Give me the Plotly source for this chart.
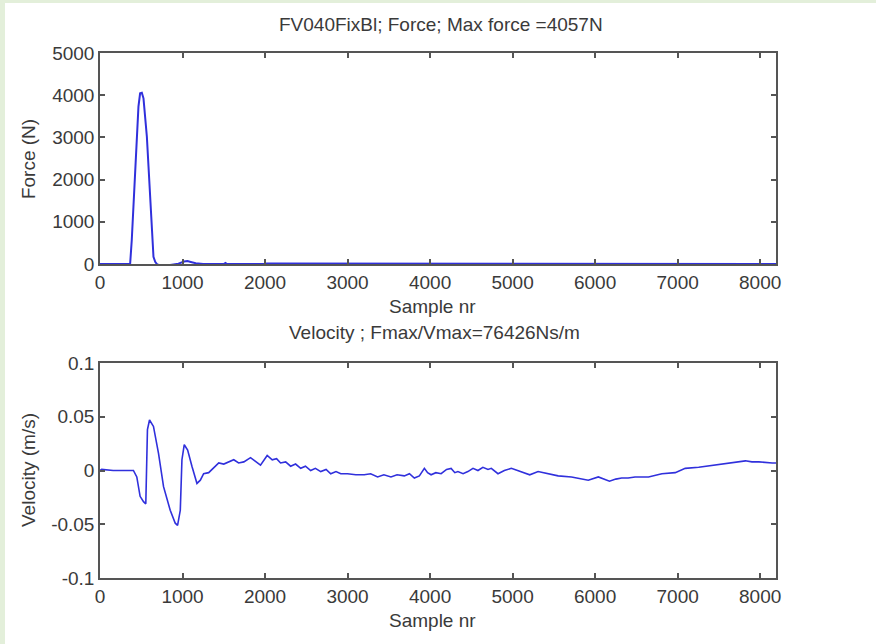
import plotly.graph_objects as go

# ---- data ----
force_x = [0, 365, 385, 405, 426, 446, 466, 486, 507, 527, 547, 568, 588, 608, 628, 648, 669, 689,
           720, 780, 850, 950, 1020, 1060, 1100, 1160, 1250, 1500, 1520, 1540, 2000, 2020, 8192]
force_y = [0, 0, 570, 1280, 1990, 2940, 3730, 4045, 4057, 3926, 3500, 3017, 2306, 1517, 727, 174, 55, 0,
           -30, -40, -20, 10, 60, 70, 50, 20, 0, 0, 25, 0, 0, 15, 0]

vel_x = [0, 20, 160, 405, 446, 486, 527, 555, 575, 600, 648, 709, 770, 851, 912, 940, 973, 993, 1021,
         1062, 1114, 1175, 1216, 1256, 1317, 1378, 1439, 1500, 1560, 1621, 1680, 1743, 1824, 1880, 1945,
         2026, 2087, 2140, 2188, 2250, 2310, 2370, 2432, 2490, 2553, 2610, 2675, 2740, 2796, 2860, 2918,
         2999, 3100, 3202, 3280, 3364, 3440, 3526, 3600, 3688, 3750, 3809, 3870, 3931, 3970, 4012, 4070,
         4134, 4200, 4255, 4300, 4337, 4400, 4458, 4520, 4580, 4640, 4702, 4742, 4823, 4900, 4985, 5066,
         5140, 5208, 5309, 5431, 5552, 5714, 5836, 5917, 6039, 6100, 6174, 6250, 6322, 6400, 6484, 6647,
         6809, 6971, 7092, 7255, 7457, 7560, 7660, 7740, 7821, 7900, 7984, 8146, 8192]
vel_y = [0.000, 0.001, 0.000, 0.000, -0.006, -0.024, -0.029, -0.031, 0.038, 0.047, 0.041, 0.016,
         -0.015, -0.037, -0.049, -0.051, -0.037, 0.010, 0.024, 0.019, 0.004, -0.012, -0.009, -0.003,
         -0.002, 0.003, 0.007, 0.006, 0.008, 0.010, 0.007, 0.008, 0.012, 0.009, 0.005, 0.014, 0.010,
         0.011, 0.007, 0.008, 0.004, 0.006, 0.002, 0.004, 0.000, 0.002, -0.001, 0.001, -0.003, -0.001,
         -0.003, -0.003, -0.004, -0.004, -0.003, -0.006, -0.004, -0.006, -0.004, -0.005, -0.003, -0.007,
         -0.005, 0.002, -0.002, -0.004, -0.002, -0.003, 0.001, 0.002, -0.002, -0.001, -0.003, -0.001,
         0.002, 0.000, 0.003, 0.001, 0.002, -0.003, 0.000, 0.002, 0.000, -0.002, -0.004, -0.001, -0.003,
         -0.005, -0.006, -0.008, -0.009, -0.006, -0.008, -0.010, -0.008, -0.007, -0.007, -0.006, -0.006,
         -0.003, -0.002, 0.002, 0.003, 0.005, 0.006, 0.007, 0.008, 0.009, 0.008, 0.008, 0.007, 0.007]

x_ticks = [0, 1000, 2000, 3000, 4000, 5000, 6000, 7000, 8000]
force_ticks = [0, 1000, 2000, 3000, 4000, 5000]
vel_ticks = [-0.1, -0.05, 0, 0.05, 0.1]
vel_tick_text = ["-0.1", "-0.05", "0", "0.05", "0.1"]

title_top = "FV040FixBl; Force; Max force =4057N"
title_bottom = "Velocity ; Fmax/Vmax=76426Ns/m"

# ---- figure ----
FONT = "Liberation Sans, Arial, sans-serif"
TXT = "#3a3a3a"
AX = "#555555"
LINE = "#3030dc"

fig = go.Figure()
fig.add_trace(go.Scatter(x=force_x, y=force_y, mode="lines", line=dict(color=LINE, width=2),
                         xaxis="x", yaxis="y", showlegend=False))
fig.add_trace(go.Scatter(x=vel_x, y=vel_y, mode="lines", line=dict(color=LINE, width=1.6),
                         xaxis="x2", yaxis="y2", showlegend=False))

axis_common = dict(showgrid=False, zeroline=False, showline=True, linecolor=AX, linewidth=1.5,
                   mirror="ticks", ticks="inside", ticklen=5, tickcolor=AX, tickwidth=1.5,
                   tickfont=dict(family=FONT, size=19, color=TXT))

fig.update_layout(
    width=876, height=644,
    margin=dict(l=100, r=100, t=53, b=66),
    paper_bgcolor="white", plot_bgcolor="white",
    xaxis=dict(domain=[0, 1], anchor="y", range=[0, 8192], tickvals=x_ticks, **axis_common),
    yaxis=dict(domain=[0.598, 1], anchor="x", range=[0, 5000], tickvals=force_ticks, **axis_common),
    xaxis2=dict(domain=[0, 1], anchor="y2", range=[0, 8192], tickvals=x_ticks, **axis_common),
    yaxis2=dict(domain=[0, 0.4095], anchor="x2", range=[-0.1, 0.1], tickvals=vel_ticks,
                ticktext=vel_tick_text, **axis_common),
)

ann_font = dict(family=FONT, size=19, color=TXT)
anns = [
    dict(text=title_top, x=0.5044, y=1.0552, xref="paper", yref="paper", showarrow=False,
         xanchor="center", yanchor="middle", font=ann_font),
    dict(text=title_bottom, x=0.495, y=0.4667, xref="paper", yref="paper", showarrow=False,
         xanchor="center", yanchor="middle", font=ann_font),
    dict(text="Sample nr", x=0.4926, y=0.518, xref="paper", yref="paper", showarrow=False,
         xanchor="center", yanchor="middle", font=ann_font),
    dict(text="Sample nr", x=0.4926, y=-0.08, xref="paper", yref="paper", showarrow=False,
         xanchor="center", yanchor="middle", font=ann_font),
    dict(text="Force (N)", x=-0.1065, y=0.798, xref="paper", yref="paper", showarrow=False,
         textangle=-90, xanchor="center", yanchor="middle", font=ann_font),
    dict(text="Velocity (m/s)", x=-0.1065, y=0.2057, xref="paper", yref="paper", showarrow=False,
         textangle=-90, xanchor="center", yanchor="middle", font=ann_font),
]
fig.update_layout(annotations=anns)

GREEN = "#e3efda"
fig.update_layout(shapes=[
    dict(type="rect", xref="paper", yref="paper", x0=-0.16, x1=-0.1405, y0=-0.2, y1=1.2,
         fillcolor=GREEN, line=dict(width=0), layer="below"),
    dict(type="rect", xref="paper", yref="paper", x0=-0.16, x1=1.2, y0=1.0952, y1=1.2,
         fillcolor=GREEN, line=dict(width=0), layer="below"),
])

fig.write_html("out.html", config={"displayModeBar": False},
               post_script="document.body.style.margin='0';")
